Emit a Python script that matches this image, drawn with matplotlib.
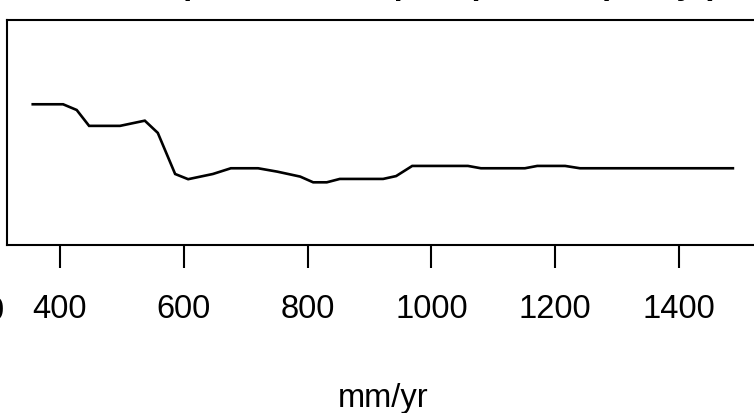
#! /usr/bin/python3
# coding : utf-8

import numpy as np
import matplotlib
matplotlib.use("Agg")
import matplotlib.pyplot as plt

plt.rcParams['font.family'] = ['Liberation Sans', 'DejaVu Sans']

W, H = 754, 413   # 输出图片像素大小

# 曲线数据（从图上读出，y 为相对值）
precip = [356, 405, 427, 447, 497, 537, 558, 586, 607, 647, 676, 720, 751, 788,
          809, 831, 852, 922, 943, 969, 1059, 1080, 1151, 1171, 1216, 1240, 1487]
effect = [0.300, 0.300, 0.278, 0.217, 0.217, 0.237, 0.190, 0.032, 0.012, 0.032,
          0.054, 0.054, 0.041, 0.022, 0.000, 0.000, 0.013, 0.013, 0.024, 0.063,
          0.063, 0.054, 0.054, 0.063, 0.063, 0.054, 0.054]
x_ticks = [400, 600, 800, 1000, 1200, 1400]

title_text = "Partial Dependence on precipitation (mm/yr)"
x_label = "mm/yr"
FS = 23.5


def px(x):
    """像素 -> figure 坐标 (x)"""
    return x / W


def py(y):
    """像素(从上往下) -> figure 坐标 (y)"""
    return 1 - y / H


fig = plt.figure(figsize=(W / 100, H / 100), dpi=100)
ax = fig.add_axes([px(7), py(245), px(760) - px(7), py(20) - py(245)])

ax.plot(precip, effect, color="black", lw=1.9, solid_joinstyle="miter")
ax.set_xlim(314.4, 1530.8)
ax.set_ylim(-0.241, 0.624)

ax.set_xticks(x_ticks)
ax.set_xticklabels([str(t) for t in x_ticks], fontsize=FS)
ax.set_yticks([])
ax.tick_params(axis="x", length=16.5, width=1.5, pad=18.5)
for s in ax.spines.values():
    s.set_linewidth(1.5)

ax.set_xlabel(x_label, fontsize=FS)
ax.xaxis.set_label_coords(0.5, -(383 - 245) / 225)

# 标题只露出底部一点
fig.text(px(718), py(-6), title_text, fontsize=FS, fontweight="bold",
         ha="right", va="baseline")
# 左边相邻刻度标签的残留
fig.text(px(4), py(311), "0", fontsize=FS, ha="right", va="center")

fig.savefig("out.png", dpi=100)
